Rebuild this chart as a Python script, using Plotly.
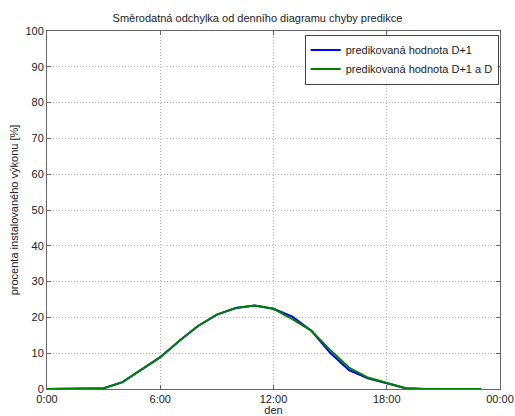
import plotly.graph_objects as go

hours = list(range(24))
d1 = [0, 0, 0, 0.2, 1.9, 5.3, 8.9, 13.4, 17.6, 20.8, 22.6, 23.3, 22.4, 20.2, 16.3, 10.1, 5.3, 3.0, 1.6, 0.2, 0, 0, 0, 0]
d1d = [0, 0, 0, 0.2, 1.9, 5.3, 8.9, 13.4, 17.6, 20.8, 22.6, 23.3, 22.4, 19.5, 16.3, 10.9, 6.0, 3.2, 1.6, 0.2, 0, 0, 0, 0]
xtick_vals = [0, 6, 12, 18, 24]
xtick_text = ["0:00", "6:00", "12:00", "18:00", "00:00"]
ytick_vals = list(range(0, 101, 10))

fig = go.Figure()
fig.add_trace(go.Scatter(x=hours, y=d1, mode="lines", name="predikovaná hodnota D+1",
                         line=dict(color="#0000FF", width=2)))
fig.add_trace(go.Scatter(x=hours, y=d1d, mode="lines", name="predikovaná hodnota D+1 a D",
                         line=dict(color="#008000", width=2)))

axis_common = dict(showline=True, linecolor="#666666", linewidth=1, mirror="ticks",
                   ticks="inside", ticklen=4, tickcolor="#666666",
                   showgrid=True, gridcolor="#b8b8b8", griddash="1px,2px", gridwidth=1,
                   zeroline=False, automargin=False, tickfont=dict(size=11, color="#222222"))

fig.update_layout(
    width=515, height=416,
    margin=dict(l=47, r=15, t=31, b=27),
    paper_bgcolor="white", plot_bgcolor="white",
    font=dict(family="Liberation Sans, Arial, sans-serif", size=11, color="#222222"),
    title=dict(text="Směrodatná odchylka od denního diagramu chyby predikce",
               x=0.5, xanchor="center", y=1 - 18/416, yanchor="middle",
               font=dict(size=11)),
    showlegend=True,
    legend=dict(x=0.997, y=0.99, xanchor="right", yanchor="top",
                bgcolor="white", bordercolor="#444444", borderwidth=1,
                font=dict(size=11), tracegroupgap=0, itemwidth=30),
    xaxis=dict(range=[0, 24], tickvals=xtick_vals, ticktext=xtick_text,
               title=dict(text="den", standoff=2, font=dict(size=11)), **axis_common),
    yaxis=dict(range=[0, 100], tickvals=ytick_vals,
               title=dict(text="procenta instalovaného výkonu [%]", standoff=4, font=dict(size=11)),
               **axis_common),
)

fig.write_html("out.html")
